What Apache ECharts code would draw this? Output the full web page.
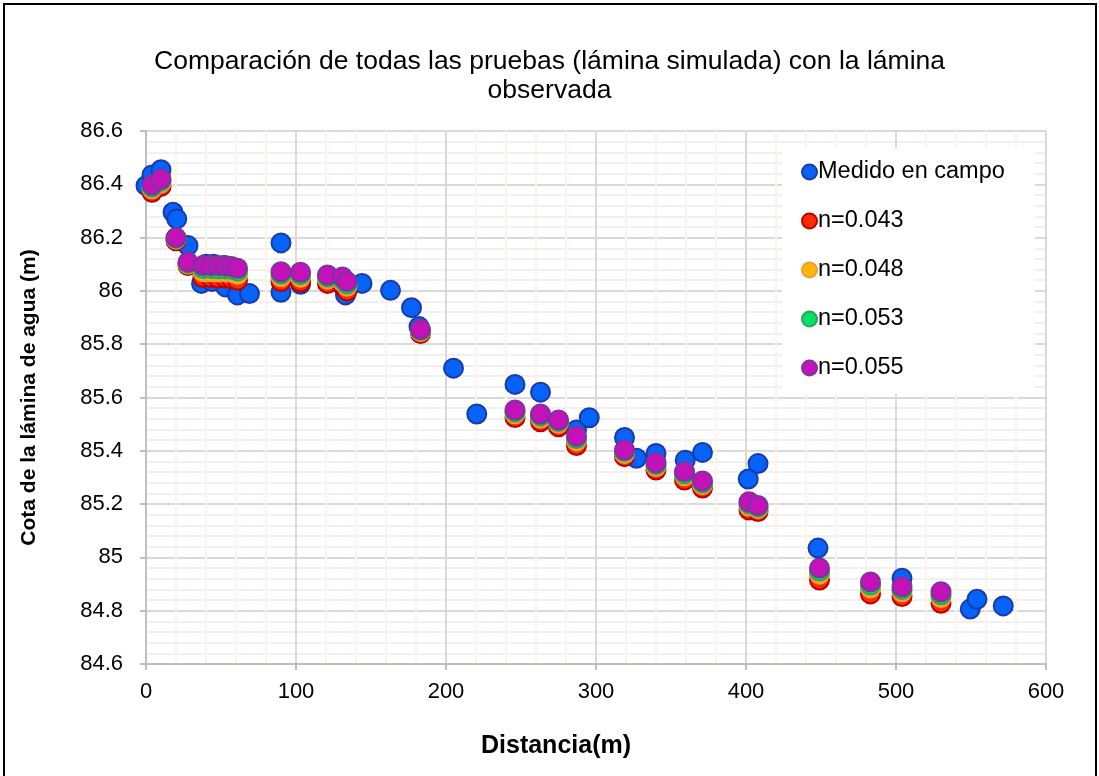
<!DOCTYPE html>
<html>
<head>
<meta charset="utf-8">
<script src="https://cdn.jsdelivr.net/npm/echarts@6/dist/echarts.min.js"></script>
<style>
html,body{margin:0;padding:0;background:#fff;}
#c{width:1099px;height:776px;}
</style>
</head>
<body>
<div id="c"></div>
<script>
// Measured field data (Medido en campo)
const medidoX = [0, 4, 10, 18, 20.5, 28, 40, 45, 52, 37, 44, 53, 61, 69, 90, 90, 103, 133, 144, 163, 177, 182, 205, 220.5, 246, 263, 287, 295.5, 319, 327, 340, 359.5, 371, 401.5, 408, 448, 504, 549.5, 554, 571.5];
const medidoY = [86.395, 86.435, 86.455, 86.295, 86.27, 86.17, 86.1, 86.1, 86.095, 86.028, 86.035, 86.015, 85.985, 85.99, 86.18, 85.995, 86.025, 85.985, 86.028, 86.002, 85.937, 85.866, 85.71, 85.538, 85.649, 85.62, 85.478, 85.524, 85.45, 85.372, 85.39, 85.365, 85.394, 85.294, 85.352, 85.035, 84.922, 84.806, 84.843, 84.818];

// Simulated stations (shared distance)
const simX = [4, 10, 20, 28, 38, 43, 48, 53, 57, 61, 90, 103, 121, 131, 134, 183, 246, 263, 275, 287, 319, 340, 359, 371, 402, 408, 449, 483, 504, 530];
const n043 = [86.37, 86.392, 86.188, 86.095, 86.05, 86.05, 86.048, 86.048, 86.046, 86.04, 86.035, 86.033, 86.028, 86.02, 86.0, 85.84, 85.525, 85.509, 85.49, 85.42, 85.378, 85.328, 85.29, 85.26, 85.178, 85.172, 84.915, 84.863, 84.853, 84.828];
const n048 = [86.383, 86.406, 86.194, 86.101, 86.072, 86.072, 86.071, 86.071, 86.069, 86.062, 86.053, 86.051, 86.044, 86.036, 86.017, 85.847, 85.539, 85.523, 85.503, 85.437, 85.39, 85.341, 85.306, 85.273, 85.193, 85.183, 84.937, 84.885, 84.871, 84.849];
const n053 = [86.39, 86.413, 86.197, 86.104, 86.084, 86.084, 86.083, 86.083, 86.081, 86.074, 86.063, 86.061, 86.052, 86.044, 86.026, 85.851, 85.546, 85.531, 85.51, 85.446, 85.397, 85.348, 85.314, 85.28, 85.201, 85.189, 84.948, 84.896, 84.88, 84.86];
const n055 = [86.397, 86.42, 86.2, 86.108, 86.095, 86.095, 86.095, 86.094, 86.092, 86.085, 86.072, 86.07, 86.06, 86.052, 86.035, 85.855, 85.553, 85.538, 85.516, 85.455, 85.403, 85.355, 85.322, 85.287, 85.209, 85.195, 84.96, 84.908, 84.89, 84.871];

const seriesNames = ['Medido en campo', 'n=0.043', 'n=0.048', 'n=0.053', 'n=0.055'];
const titleText = 'Comparación de todas las pruebas (lámina simulada) con la lámina\nobservada';
const xName = 'Distancia(m)';
const yName = 'Cota de la lámina de agua (m)';

function pairs(xs, ys){ return xs.map((x,i)=>[x, ys[i]]); }

const styles = [
  {fill:'#0563fa', border:'#1a3aa8'},
  {fill:'#ff2a00', border:'#c00000'},
  {fill:'#ffb800', border:'#f39a3c'},
  {fill:'#00e070', border:'#2aa84a'},
  {fill:'#c312b8', border:'#7b34a0'}
];
const dataSets = [pairs(medidoX, medidoY), pairs(simX, n043), pairs(simX, n048), pairs(simX, n053), pairs(simX, n055)];

const FONT = 'Liberation Sans, Arial, sans-serif';
const chart = echarts.init(document.getElementById('c'), null, {renderer:'canvas'});
chart.setOption({
  animation:false,
  backgroundColor:'#fff',
  textStyle:{fontFamily:FONT},
  title:{
    text:titleText, left:'center', top:47, padding:0,
    textStyle:{fontFamily:FONT, fontSize:26.5, fontWeight:'normal', color:'#000', lineHeight:29}
  },
  graphic:[{type:'rect', shape:{x:4, y:4, width:1092, height:800}, style:{fill:'none', stroke:'#000', lineWidth:2}, silent:true}],
  grid:{left:146, right:53, top:131, bottom:112},
  legend:{
    orient:'vertical', left:782, top:148,
    backgroundColor:'#fff', padding:[12, 30, 14, 19],
    itemWidth:15, itemHeight:15, itemGap:25,
    icon:'circle',
    data:seriesNames,
    textStyle:{fontFamily:FONT, fontSize:23.5, color:'#000', padding:[0,0,0,-4], lineHeight:24}
  },
  xAxis:{
    type:'value', min:0, max:600, interval:100,
    name:xName, nameLocation:'middle', nameGap:70,
    nameTextStyle:{fontFamily:FONT, fontSize:25, fontWeight:'bold', color:'#000', padding:[0,80,0,0]},
    axisLine:{show:true, lineStyle:{color:'#bfbfbf', width:2}},
    axisTick:{show:true, inside:false, length:6, lineStyle:{color:'#bfbfbf', width:2}},
    axisLabel:{fontFamily:FONT, fontSize:22, color:'#000', margin:17},
    splitLine:{show:true, lineStyle:{color:'#d9d9d9', width:2}},
    minorTick:{show:false, splitNumber:5},
    minorSplitLine:{show:true, lineStyle:{color:'#fdf4e6', width:2}}
  },
  yAxis:{
    type:'value', min:84.6, max:86.6, interval:0.2,
    name:yName, nameLocation:'middle', nameGap:106,
    nameTextStyle:{fontFamily:FONT, fontSize:21, fontWeight:'bold', color:'#000'},
    axisLine:{show:true, lineStyle:{color:'#bfbfbf', width:2}},
    axisTick:{show:true, inside:false, length:6, lineStyle:{color:'#bfbfbf', width:2}},
    axisLabel:{fontFamily:FONT, fontSize:22, color:'#000', margin:23, formatter:v=>String(+v.toFixed(1))},
    splitLine:{show:true, lineStyle:{color:'#d9d9d9', width:2}},
    minorTick:{show:false, splitNumber:5},
    minorSplitLine:{show:true, lineStyle:{color:'#f0f0f0', width:2}}
  },
  series: seriesNames.map((nm,i)=>({
    name:nm, type:'scatter', data:dataSets[i], symbol:'circle', symbolSize:19,
    itemStyle:{color:styles[i].fill, borderColor:styles[i].border, borderWidth:2, opacity:1},
    z:2+i
  }))
});
</script>
</body>
</html>
